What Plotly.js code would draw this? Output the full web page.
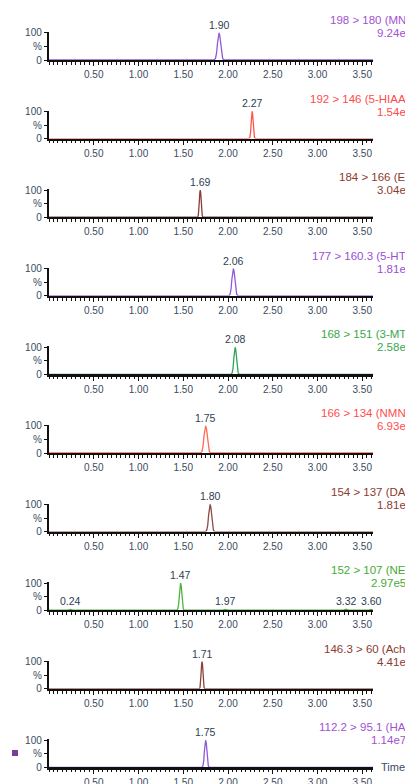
<!DOCTYPE html>
<html>
<head>
<meta charset="utf-8">
<script src="https://cdn.plot.ly/plotly-3.0.1.min.js"></script>
<style>html,body{margin:0;padding:0;background:#fff;}#chart{width:405px;height:784px;}</style>
</head>
<body>
<div id="chart"></div>
<script>
// ---- data ----
const transitions = ["198 > 180 (MN", "192 > 146 (5-HIAA", "184 > 166 (E", "177 > 160.3 (5-HT", "168 > 151 (3-MT",
                     "166 > 134 (NMN", "154 > 137 (DA", "152 > 107 (NE", "146.3 > 60 (Ach", "112.2 > 95.1 (HA"];
const areas = ["9.24e", "1.54e", "3.04e", "1.81e", "2.58e", "6.93e", "1.81e", "2.97e5", "4.41e", "1.14e7"];
const seriesColors = ["#8f5ad6", "#ff5548", "#8c3f3a", "#8f5ad6", "#2fa35a", "#ff6a55", "#8c4a44", "#4cb43c", "#8c4038", "#8f5ad6"];
const labelColors  = ["#a252d2", "#ff4a4a", "#8b3a30", "#9a4fd2", "#3aa84a", "#ff4d4d", "#8b3a30", "#45ab33", "#8b3a30", "#a252d2"];

// retention time (min) / relative intensity (%) for each channel
const time1 = [0, 1.845, 1.86, 1.872, 1.882, 1.892, 1.90, 1.908, 1.918, 1.928, 1.94, 1.955, 3.62];
const int1  = [0, 0, 6, 25, 60, 90, 100, 90, 60, 25, 6, 0, 0];
const time2 = [0, 2.235, 2.245, 2.253, 2.259, 2.265, 2.27, 2.275, 2.281, 2.287, 2.295, 2.305, 3.62];
const int2  = [0, 0, 6, 25, 60, 90, 100, 90, 60, 25, 6, 0, 0];
const time3 = [0, 1.66, 1.668, 1.675, 1.68, 1.685, 1.69, 1.695, 1.70, 1.705, 1.712, 1.72, 3.62];
const int3  = [0, 0, 6, 25, 60, 90, 100, 90, 60, 25, 6, 0, 0];
const time4 = [0, 2.01, 2.023, 2.034, 2.043, 2.052, 2.06, 2.068, 2.077, 2.086, 2.097, 2.11, 3.62];
const int4  = [0, 0, 6, 25, 60, 90, 100, 90, 60, 25, 6, 0, 0];
const time5 = [0, 2.035, 2.047, 2.057, 2.065, 2.073, 2.08, 2.087, 2.095, 2.103, 2.113, 2.125, 3.62];
const int5  = [0, 0, 6, 25, 60, 90, 100, 90, 60, 25, 6, 0, 0];
const time6 = [0, 1.695, 1.709, 1.721, 1.731, 1.741, 1.75, 1.759, 1.769, 1.779, 1.791, 1.805, 3.62];
const int6  = [0, 0, 6, 25, 60, 90, 100, 90, 60, 25, 6, 0, 0];
const time7 = [0, 1.75, 1.763, 1.774, 1.783, 1.792, 1.80, 1.808, 1.817, 1.826, 1.837, 1.85, 3.62];
const int7  = [0, 0, 6, 25, 60, 90, 100, 90, 60, 25, 6, 0, 0];
const time8 = [0, 0.21, 0.24, 0.27, 1.43, 1.44, 1.449, 1.456, 1.463, 1.47, 1.477, 1.484, 1.491, 1.50, 1.51, 1.94, 1.97, 2.00, 3.29, 3.32, 3.35, 3.57, 3.60, 3.62];
const int8  = [0, 0, 3, 0, 0, 6, 25, 60, 90, 100, 90, 60, 25, 6, 0, 0, 3, 0, 0, 4, 0, 0, 3, 0];
const time9 = [0, 1.68, 1.688, 1.695, 1.70, 1.705, 1.71, 1.715, 1.72, 1.725, 1.732, 1.74, 3.62];
const int9  = [0, 0, 6, 25, 60, 90, 100, 90, 60, 25, 6, 0, 0];
const time10 = [0, 1.71, 1.72, 1.729, 1.736, 1.743, 1.75, 1.757, 1.764, 1.771, 1.78, 1.79, 3.62];
const int10  = [0, 0, 6, 25, 60, 90, 100, 90, 60, 25, 6, 0, 0];

const peakTimes = [[1.90], [2.27], [1.69], [2.06], [2.08], [1.75], [1.80], [0.24, 1.47, 1.97, 3.32, 3.60], [1.71], [1.75]];
const peakHeights = [[100], [100], [100], [100], [100], [100], [100], [3, 100, 3, 4, 3], [100], [100]];
const peakLabels = [["1.90"], ["2.27"], ["1.69"], ["2.06"], ["2.08"], ["1.75"], ["1.80"], ["0.24", "1.47", "1.97", "3.32", "3.60"], ["1.71"], ["1.75"]];

const xTickVals = [0.5, 1.0, 1.5, 2.0, 2.5, 3.0, 3.5];
const xTickText = ["0.50", "1.00", "1.50", "2.00", "2.50", "3.00", "3.50"];
const yTickVals = [0, 50, 100];
const yTickText = ["0", "%", "100"];

const times = [time1, time2, time3, time4, time5, time6, time7, time8, time9, time10];
const ints = [int1, int2, int3, int4, int5, int6, int7, int8, int9, int10];

// ---- layout ----
const W = 405, H = 784, L = 49, R = 32;
const plotW = W - L - R;
const FONT = "Liberation Sans, Arial, sans-serif";
const tickColor = "#3a4b60";
const pxToPaperX = px => (px - L) / plotW;
const pxToPaperY = py => 1 - py / H;

const data = [];
const layout = {
  width: W, height: H,
  margin: {l: L, r: R, t: 0, b: 0},
  paper_bgcolor: "#fff", plot_bgcolor: "#fff",
  showlegend: false,
  font: {family: FONT, size: 10, color: tickColor},
  annotations: [], shapes: []
};

for (let i = 0; i < 10; i++) {
  const n = i === 0 ? "" : String(i + 1);
  const zeroPx = 60 + i * 78.6;
  const topPx = zeroPx - 28;
  data.push({
    x: times[i], y: ints[i], xaxis: "x" + n, yaxis: "y" + n,
    type: "scatter", mode: "lines",
    line: {color: seriesColors[i], width: 1.3},
    hoverinfo: "skip"
  });
  layout["xaxis" + n] = {
    domain: [0, 1], anchor: "y" + n, range: [0, 3.62],
    showline: true, linecolor: "#111", linewidth: 2.2,
    showgrid: false, zeroline: false,
    tickmode: "array", tickvals: xTickVals, ticktext: xTickText,
    ticks: "outside", ticklen: 4, tickwidth: 1, tickcolor: "#111",
    tickfont: {family: FONT, size: 10, color: tickColor},
    minor: {tickmode: "linear", tick0: 0, dtick: 0.05, ticks: "outside", ticklen: 2.5, tickwidth: 1, tickcolor: "#111", showgrid: false},
    fixedrange: true
  };
  layout["yaxis" + n] = {
    domain: [pxToPaperY(zeroPx), pxToPaperY(topPx)], anchor: "x" + n, range: [0, 103],
    showline: true, linecolor: "#111", linewidth: 2.2,
    showgrid: false, zeroline: false,
    tickmode: "array", tickvals: yTickVals, ticktext: yTickText,
    ticks: "outside", ticklen: 3, tickwidth: 1, tickcolor: "#111",
    tickfont: {family: FONT, size: 10, color: tickColor},
    fixedrange: true
  };
  // peak labels
  for (let k = 0; k < peakTimes[i].length; k++) {
    layout.annotations.push({
      xref: "x" + n, yref: "y" + n, x: peakTimes[i][k], y: peakHeights[i][k],
      text: peakLabels[i][k], showarrow: false, yanchor: "bottom", yshift: 0,
      font: {family: FONT, size: 10.5, color: "#2d3e52"}
    });
  }
  // channel labels (cut at right edge, as in the reference)
  layout.annotations.push({
    xref: "paper", yref: "paper", x: pxToPaperX(407), y: pxToPaperY(zeroPx - 40),
    text: transitions[i], showarrow: false, xanchor: "right", yanchor: "middle",
    font: {family: FONT, size: 11.5, color: labelColors[i]}, borderpad: 0
  });
  layout.annotations.push({
    xref: "paper", yref: "paper", x: pxToPaperX(407), y: pxToPaperY(zeroPx - 27),
    text: areas[i], showarrow: false, xanchor: "right", yanchor: "middle",
    font: {family: FONT, size: 11.5, color: labelColors[i]}, borderpad: 0
  });
}

// "Time" label on the last axis
layout.annotations.push({
  xref: "paper", yref: "paper", x: pxToPaperX(379), y: pxToPaperY(60 + 9 * 78.6),
  text: "Time", showarrow: false, xanchor: "left", yanchor: "middle",
  font: {family: FONT, size: 11, color: tickColor}
});
// small purple marker at the left of the last panel
layout.shapes.push({
  type: "rect", xref: "paper", yref: "paper",
  x0: pxToPaperX(12), x1: pxToPaperX(18), y0: pxToPaperY(756), y1: pxToPaperY(750),
  fillcolor: "#7a3b9c", line: {width: 0}
});

Plotly.newPlot("chart", data, layout, {displayModeBar: false, staticPlot: true});
</script>
</body>
</html>
